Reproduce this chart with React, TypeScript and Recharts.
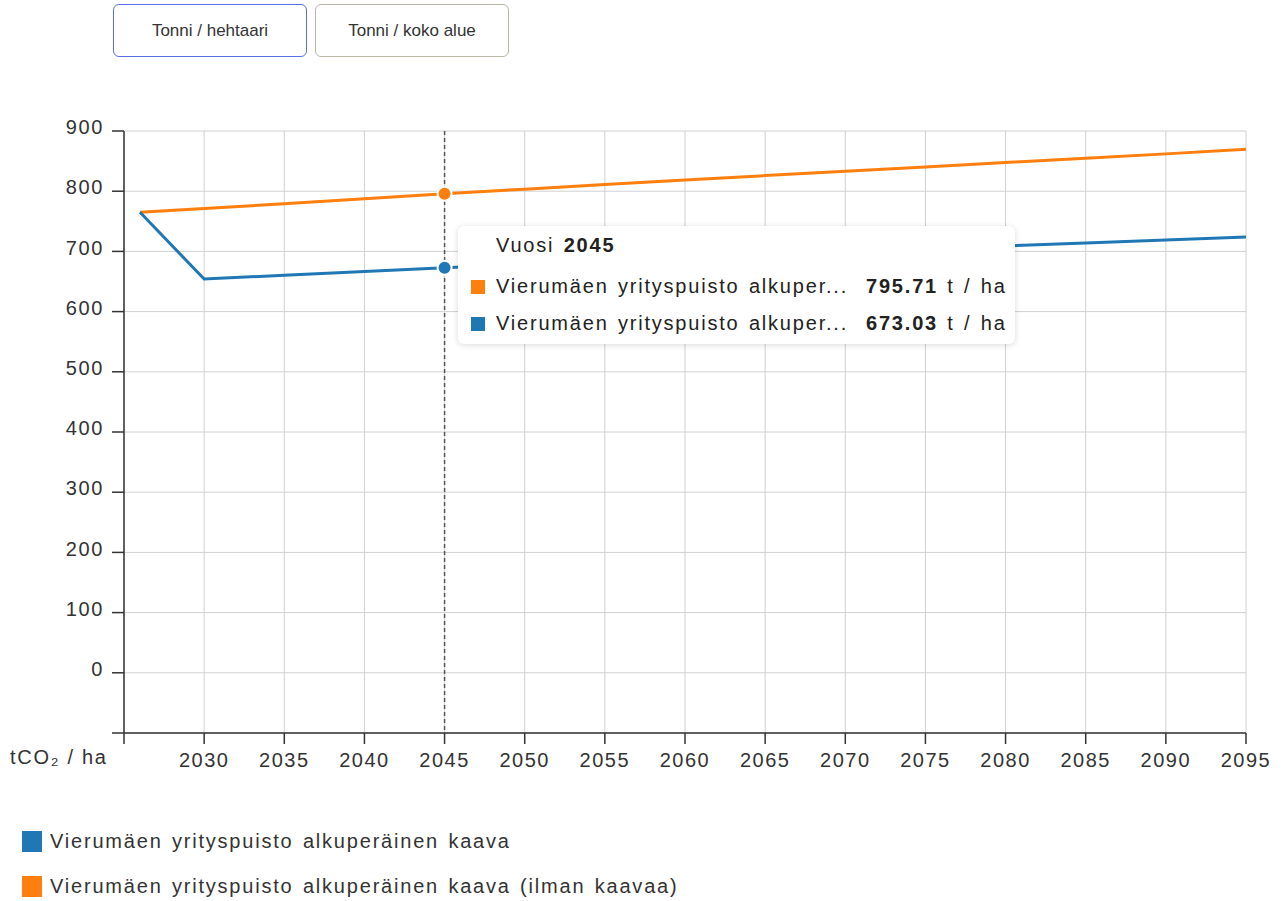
import { LineChart, Line, XAxis, YAxis, CartesianGrid, Tooltip } from "recharts";

const years = [2026, 2030, 2035, 2040, 2045, 2050, 2055, 2060, 2065, 2070, 2075, 2080, 2085, 2090, 2095];
const ilmanKaavaa = [765, 771.2, 779.3, 787.5, 795.71, 803.4, 811.0, 818.5, 825.9, 833.2, 840.4, 847.6, 854.8, 862.0, 869.5];
const alkuperainen = [765, 654.0, 660.5, 666.8, 673.03, 678.5, 683.8, 689.0, 694.1, 699.1, 704.1, 709.0, 713.9, 718.8, 723.8];

const xTicks = [2025, 2030, 2035, 2040, 2045, 2050, 2055, 2060, 2065, 2070, 2075, 2080, 2085, 2090, 2095];
const yTicks = [-100, 0, 100, 200, 300, 400, 500, 600, 700, 800, 900];

const series = [
  { key: "alkuperainen", name: "Vierumäen yrityspuisto alkuperäinen kaava", color: "#1f77b4" },
  { key: "ilmanKaavaa", name: "Vierumäen yrityspuisto alkuperäinen kaava (ilman kaavaa)", color: "#ff7f0e" },
];

const data = years.map((year, i) => ({
  year,
  alkuperainen: alkuperainen[i],
  ilmanKaavaa: ilmanKaavaa[i],
}));

const font = '"Liberation Sans", Arial, sans-serif';

function shorten(s: string) {
  return s.length > 30 ? s.slice(0, 30) + "..." : s;
}

function TipBox({ payload, label }: any) {
  if (!payload || !payload.length) return null;
  return (
    <div
      style={{
        width: 557,
        height: 118,
        boxSizing: "border-box",
        background: "#fff",
        borderRadius: 6,
        boxShadow: "0 1px 6px rgba(0,0,0,0.15)",
        fontFamily: font,
        fontSize: 20,
        letterSpacing: 1.8,
        wordSpacing: 2,
        color: "#222",
        padding: "6px 0 0 38px",
        position: "relative",
      }}
    >
      <div style={{ height: 26, lineHeight: "26px" }}>
        Vuosi <b>{label}</b>
      </div>
      {payload.map((p: any, i: number) => (
        <div key={p.dataKey} style={{ position: "absolute", left: 0, top: 48 + i * 37, height: 24, lineHeight: "24px", whiteSpace: "nowrap" }}>
          <span style={{ position: "absolute", left: 13, top: 6, width: 14, height: 14, background: p.color }} />
          <span style={{ position: "absolute", left: 38 }}>{shorten(p.name)}</span>
          <span style={{ position: "absolute", left: 408 }}>
            <b>{Number(p.value).toFixed(2)}</b> t / ha
          </span>
        </div>
      ))}
    </div>
  );
}

const btn = (active: boolean): React.CSSProperties => ({
  position: "absolute",
  top: 4,
  width: 194,
  height: 53,
  boxSizing: "border-box",
  border: `1.5px solid ${active ? "#5a6ee6" : "#b9b6a4"}`,
  borderRadius: 6,
  background: "#fff",
  fontFamily: font,
  fontSize: 17,
  color: "#333",
  display: "flex",
  alignItems: "center",
  justifyContent: "center",
});

export default function App() {
  const orderInTip = [series[1], series[0]];
  return (
    <div style={{ position: "absolute", left: 0, top: 0, width: 1283, height: 901, background: "#fff" }}>
      <div style={{ ...btn(true), left: 113 }}>Tonni / hehtaari</div>
      <div style={{ ...btn(false), left: 315 }}>Tonni / koko alue</div>

      <div style={{ position: "absolute", left: 0, top: 0 }}>
        <LineChart width={1283} height={800} data={data} margin={{ top: 131, right: 37, left: 0, bottom: 27 }}>
          <CartesianGrid stroke="#d0d0d0" strokeWidth={1} />
          <XAxis
            dataKey="year"
            type="number"
            domain={[2025, 2095]}
            ticks={xTicks}
            tickFormatter={(v: number) => (v === 2025 ? "" : String(v))}
            height={40}
            tickSize={11}
            tickMargin={9}
            stroke="#333"
            strokeWidth={1.5}
            tick={{ fill: "#333", fontSize: 20, fontFamily: font, letterSpacing: 1.5 }}
          />
          <YAxis
            type="number"
            domain={[-100, 900]}
            ticks={yTicks}
            tickFormatter={(v: number) => (v === -100 ? "" : String(v))}
            width={124}
            tickSize={12}
            tickMargin={8}
            stroke="#333"
            strokeWidth={1.5}
            tick={{ fill: "#333", fontSize: 20, fontFamily: font, letterSpacing: 1.6, dy: -4 }}
          />
          <Tooltip
            active
            defaultIndex={4}
            position={{ x: 458, y: 226 }}
            content={<TipBox />}
            cursor={{ stroke: "#555", strokeWidth: 1.5, strokeDasharray: "4 3" }}
            isAnimationActive={false}
            wrapperStyle={{ outline: "none" }}
          />
          {orderInTip.map((s) => (
            <Line
              key={s.key}
              type="linear"
              dataKey={s.key}
              name={s.name}
              stroke={s.color}
              fill={s.color}
              strokeWidth={3}
              dot={false}
              activeDot={{ r: 7, fill: s.color, stroke: "#fff", strokeWidth: 2 }}
              isAnimationActive={false}
            />
          ))}
        </LineChart>
      </div>

      <div style={{ position: "absolute", left: 10, top: 746, fontFamily: font, fontSize: 20, letterSpacing: 1.7, color: "#333" }}>
        tCO₂ / ha
      </div>

      {series.map((s, i) => (
        <div
          key={s.key}
          style={{
            position: "absolute",
            left: 22,
            top: 830 + i * 45,
            display: "flex",
            alignItems: "center",
            fontFamily: font,
            fontSize: 20,
            letterSpacing: 1.8,
            wordSpacing: 2,
            color: "#333",
            whiteSpace: "nowrap",
          }}
        >
          <span style={{ width: 20, height: 21, background: s.color, marginRight: 8, display: "inline-block" }} />
          {s.name}
        </div>
      ))}
    </div>
  );
}
